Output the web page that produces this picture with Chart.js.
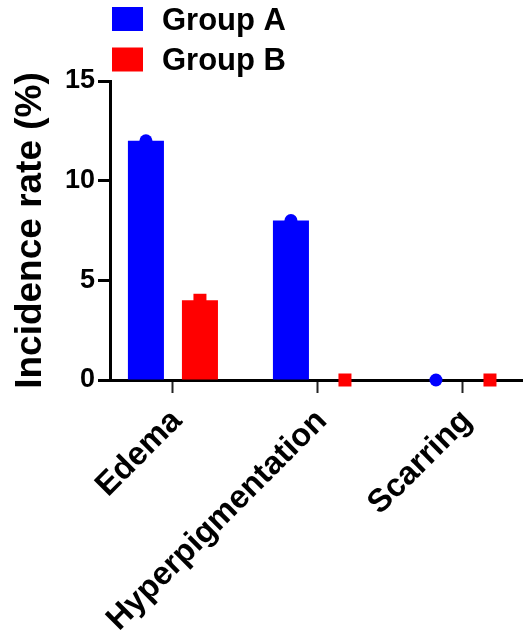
<!DOCTYPE html>
<html>
<head>
<meta charset="utf-8">
<script src="https://cdn.jsdelivr.net/npm/chart.js@4.4.1/dist/chart.umd.min.js"></script>
<style>
html, body { margin: 0; padding: 0; background: #fff; overflow: hidden; }
#wrap { position: relative; width: 523px; height: 636px; }
</style>
</head>
<body>
<div id="wrap"><canvas id="c" width="523" height="636"></canvas></div>
<script>
// Incidence of adverse skin reactions by group
const categories = ['Edema', 'Hyperpigmentation', 'Scarring'];
const groupA = [12, 8, 0];
const groupB = [4, 0, 0];
const seriesNames = ['Group A', 'Group B'];
const seriesColors = ['#0000ff', '#ff0000'];
const markerShapes = ['circle', 'square'];
const yTicks = [0, 5, 10, 15];

const FONT = "'Liberation Sans', Arial, Helvetica, sans-serif";

function toPoints(values) {
  return values.map((v, i) => ({ x: i, y: v }));
}

// Draws the individual value marker on top of each bar
const markerPlugin = {
  id: 'valueMarkers',
  afterDatasetsDraw(chart) {
    const ctx = chart.ctx;
    chart.data.datasets.forEach((ds, di) => {
      const meta = chart.getDatasetMeta(di);
      meta.data.forEach(el => {
        ctx.save();
        ctx.fillStyle = ds.backgroundColor;
        if (ds.marker === 'circle') {
          ctx.beginPath();
          ctx.arc(el.x, el.y, 6.5, 0, Math.PI * 2);
          ctx.fill();
        } else {
          ctx.fillRect(el.x - 6.5, el.y - 6.5, 13, 13);
        }
        ctx.restore();
      });
    });
  }
};

// Stacked legend in the top-left corner
const legendPlugin = {
  id: 'stackedLegend',
  afterDraw(chart) {
    const ctx = chart.ctx;
    ctx.save();
    chart.data.datasets.forEach((ds, i) => {
      const top = 7 + i * 40.5;
      ctx.fillStyle = ds.backgroundColor;
      ctx.fillRect(112, top, 31, 24);
      ctx.fillStyle = '#000';
      ctx.font = 'bold 31px ' + FONT;
      ctx.textBaseline = 'alphabetic';
      ctx.textAlign = 'left';
      ctx.fillText(ds.label, 162, top + 22.5);
    });
    ctx.restore();
  }
};

const datasets = [groupA, groupB].map((vals, i) => ({
  label: seriesNames[i],
  data: toPoints(vals),
  backgroundColor: seriesColors[i],
  borderWidth: 0,
  marker: markerShapes[i],
  categoryPercentage: 0.745,
  barPercentage: 0.667
}));

new Chart(document.getElementById('c'), {
  type: 'bar',
  data: { datasets },
  options: {
    responsive: false,
    animation: false,
    layout: { padding: { top: 81, right: 0, bottom: 0, left: 0 } },
    plugins: {
      legend: { display: false },
      tooltip: { enabled: false }
    },
    scales: {
      x: {
        type: 'linear',
        min: -0.434,
        max: 2.414,
        offset: false,
        afterBuildTicks: s => { s.ticks = categories.map((c, i) => ({ value: i })); },
        ticks: {
          callback: v => categories[v],
          autoSkip: false,
          maxRotation: 45,
          minRotation: 45,
          labelOffset: 4,
          font: { family: FONT, size: 32.5, weight: 'bold' },
          color: '#000',
          padding: 9
        },
        grid: { offset: false, drawOnChartArea: false, tickLength: 13, tickWidth: 2, tickColor: '#222' },
        border: { display: true, width: 3, color: '#000' },
        afterFit: s => { s.height = 256; }
      },
      y: {
        min: 0,
        max: 15,
        afterBuildTicks: s => { s.ticks = yTicks.map(v => ({ value: v })); },
        ticks: {
          font: { family: FONT, size: 27, weight: 'bold' },
          color: '#000',
          padding: 3
        },
        grid: { drawOnChartArea: false, tickLength: 12, tickWidth: 3, tickColor: '#000' },
        border: { display: true, width: 3, color: '#000' },
        title: {
          display: true,
          text: 'Incidence rate (%)',
          font: { family: FONT, size: 37, weight: 'bold' },
          color: '#000',
          padding: { top: 9, bottom: 0 }
        },
        afterFit: s => { s.width = 110; }
      }
    }
  },
  plugins: [markerPlugin, legendPlugin]
});
</script>
</body>
</html>
